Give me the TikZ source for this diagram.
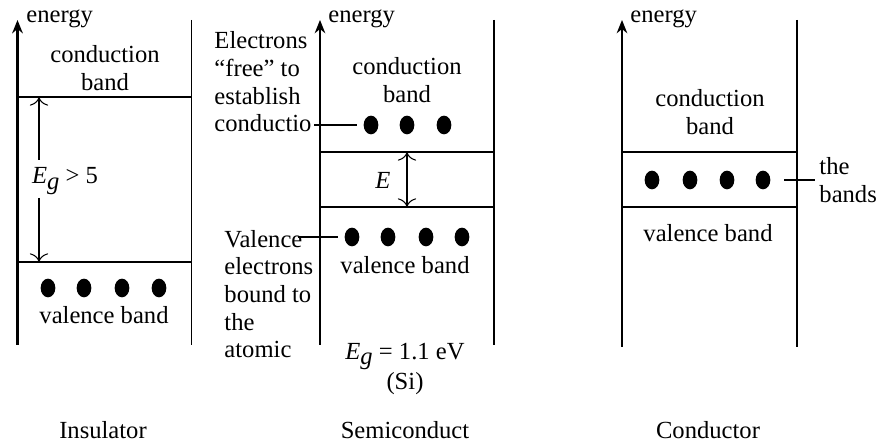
\documentclass[tikz,border=0pt]{standalone}
\usepackage{fontspec}
\setmainfont{Liberation Serif}
\usetikzlibrary{arrows.meta, shapes.geometric}

\newcommand{\Eg}{\textit{E}\raisebox{-0.5ex}{\textit{g}}}

\tikzset{
  wall/.style={line width=0.8pt},
  axis/.style={line width=0.7pt, -{Stealth[length=2mm, width=1.6mm]}},
  electron/.style={ellipse, fill=black, inner sep=0pt, minimum width=0.22cm, minimum height=0.28cm},
  txt/.style={font=\fontsize{10.5}{11.8}\selectfont, inner sep=0pt},
  gaparrow/.style={line width=0.45pt, -{To[length=1.3mm]}},
  leader/.style={line width=0.7pt}
}

\begin{document}
\begin{tikzpicture}[x=0.015cm, y=-0.015cm]
  \useasboundingbox (0,0) rectangle (878,443);

  % Insulator
  \draw[axis, line width=1.4pt] (17.5,345) -- (17.5,20);
  \draw[wall] (191.5,20) -- (191.5,345);
  \draw[wall] (17.5,97) -- (191.5,97);
  \draw[wall] (17.5,262) -- (191.5,262);
  \node[txt, anchor=west] (ins-energy) at (26,19) {energy};
  \node[txt, align=center] (ins-cb) at (105,68) {conduction\\band};
  \node[txt] (ins-gap) at (65,181) {\Eg{} > 5};
  \coordinate (ins-ctop) at (39,97);
  \coordinate (ins-vtop) at (39,262);
  \draw[gaparrow] (39,160) -- (ins-ctop);
  \draw[gaparrow] (39,198) -- (ins-vtop);
  \foreach \x [count=\i] in {48,84,122,159}
    \node[electron] (ins-e\i) at (\x,288) {};
  \node[txt] (ins-vb) at (104,315) {valence band};
  \node[txt] (ins-name) at (103,430) {Insulator};

  % Semiconductor
  \draw[axis] (320,345) -- (320,20);
  \draw[wall] (494,20) -- (494,345);
  \draw[wall] (320,152) -- (494,152);
  \draw[wall] (320,207) -- (494,207);
  \node[txt, anchor=west] (semi-energy) at (328,19) {energy};
  \node[txt, align=center] (semi-cb) at (407,80) {conduction\\band};
  \foreach \x [count=\i] in {371,407,444}
    \node[electron] (semi-c\i) at (\x,125) {};
  \node[txt] (semi-gap) at (383,180) {\textit{E}};
  \coordinate (semi-gtop) at (407,152);
  \coordinate (semi-gbot) at (407,207);
  \draw[gaparrow, {To[length=1.3mm]}-{To[length=1.3mm]}] (semi-gtop) -- (semi-gbot);
  \foreach \x [count=\i] in {352,388,426,462}
    \node[electron] (semi-v\i) at (\x,237) {};
  \node[txt] (semi-vb) at (405,265) {valence band};
  \node[txt, align=center] (semi-eg) at (405,369) {\Eg{} = 1.1 eV\\(Si)};
  \node[txt] (semi-name) at (405,430) {Semiconduct};

  % Side notes
  \node[txt, align=left, anchor=west] (free-txt) at (214,82) {Electrons\\“free” to\\establish\\conductio};
  \node[txt, align=left, anchor=west] (bound-txt) at (224,294) {Valence\\electrons\\bound to\\the\\atomic};
  \draw[leader, shorten <=1pt, shorten >=0.1cm] (free-txt.east |- semi-c1) -- (semi-c1);
  \coordinate (bound-end) at (298,237);
  \draw[leader, shorten >=0.1cm] (bound-end) -- (semi-v1);

  % Conductor
  \draw[axis] (622,347) -- (622,20);
  \draw[wall] (797,20) -- (797,347);
  \draw[wall] (622,152) -- (797,152);
  \draw[wall] (622,207) -- (797,207);
  \node[txt, anchor=west] (cond-energy) at (630,19) {energy};
  \node[txt, align=center] (cond-cb) at (710,112) {conduction\\band};
  \foreach \x [count=\i] in {652,690,727,763}
    \node[electron] (cond-e\i) at (\x,180) {};
  \node[txt] (cond-vb) at (708,233) {valence band};
  \node[txt] (cond-name) at (708,430) {Conductor};
  \node[txt, align=left, anchor=west] (bands-txt) at (819,180) {the\\bands};
  \draw[leader, shorten <=0.2cm, shorten >=0.06cm] (cond-e4) -- (bands-txt.west |- cond-e4);
\end{tikzpicture}
\end{document}
